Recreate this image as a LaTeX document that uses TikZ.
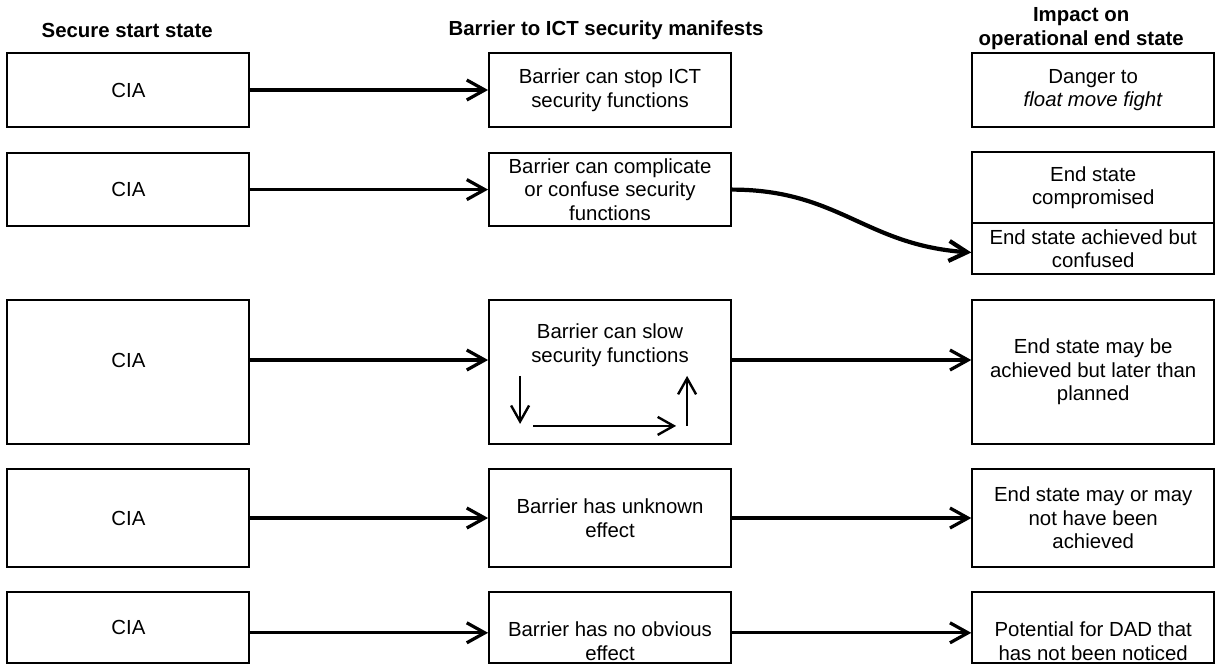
\documentclass[tikz,border=0pt]{standalone}
\usepackage{fontspec}
\setmainfont{Liberation Sans}
\usetikzlibrary{arrows.meta}

\begin{document}
\begin{tikzpicture}[
 head/.style={font=\fontsize{14.5}{16.7}\selectfont\bfseries,align=center,inner sep=0pt},
 box/.style={draw,line width=1.3pt,font=\fontsize{14.5}{16.7}\selectfont,align=center,inner sep=1pt,minimum width=6.05cm},
 link/.style={-{Straight Barb[length=4.5mm,width=5mm]},line width=2.3pt},
 curvelink/.style={link,line width=3pt},
 slowlink/.style={-{Straight Barb[length=4mm,width=4.5mm]},line width=1.7pt}
]
\useasboundingbox (0,0) rectangle (30.55,-16.625);

\node[head] (h1) at (3.18,-0.75) {Secure start state};
\node[head] (h2) at (15.15,-0.75) {Barrier to ICT security manifests};
\node[head] (h3) at (27.03,-0.71) {Impact on\\operational end state};

% row 1
\node[box,minimum height=1.85cm] (cia1) at (3.21,-2.25) {CIA};
\node[box,minimum height=1.85cm] (bar1) at (15.25,-2.25) {Barrier can stop ICT\\security functions};
\node[box,minimum height=1.85cm] (imp1) at (27.33,-2.25) {Danger to\\\textit{float move fight}};
\draw[link] (cia1) -- (bar1);

% row 2
\node[box,minimum height=1.83cm] (cia2) at (3.21,-4.74) {CIA};
\node[box,minimum height=1.83cm] (bar2) at (15.25,-4.74) {Barrier can complicate\\or confuse security\\functions};
\node[box,minimum height=1.775cm] (imp2a) at (27.33,-4.6875) {End state\\compromised};
\node[box,minimum height=1.275cm] (imp2b) at (27.33,-6.2125) {End state achieved but\\confused};
\draw[link] (cia2) -- (bar2);
\draw[curvelink] (bar2.east) to[out=0,in=176,looseness=1.1] ([yshift=-0.1cm]imp2b.west);

% row 3
\node[box,minimum height=3.6cm,text depth=0.6cm] (cia3) at (3.21,-9.3) {CIA};
\node[box,minimum height=3.6cm,text depth=1.45cm] (bar3) at (15.25,-9.3) {Barrier can slow\\security functions};
\node[box,minimum height=3.6cm] (imp3) at (27.33,-9.3) {End state may be\\achieved but later than\\planned};
\draw[link] ([yshift=0.3cm]cia3.east) -- ([yshift=0.3cm]bar3.west);
\draw[link] ([yshift=0.3cm]bar3.east) -- ([yshift=0.3cm]imp3.west);
\coordinate (d1) at ([shift={(0.8,1.725)}]bar3.south west);
\coordinate (d2) at ([shift={(0.8,0.525)}]bar3.south west);
\coordinate (r1) at ([shift={(1.125,0.475)}]bar3.south west);
\coordinate (r2) at ([shift={(4.7,0.475)}]bar3.south west);
\coordinate (u1) at ([shift={(4.975,0.475)}]bar3.south west);
\coordinate (u2) at ([shift={(4.975,1.725)}]bar3.south west);
\draw[slowlink] (d1) -- (d2);
\draw[slowlink] (r1) -- (r2);
\draw[slowlink] (u1) -- (u2);

% row 4
\node[box,minimum height=2.45cm] (cia4) at (3.21,-12.95) {CIA};
\node[box,minimum height=2.45cm] (bar4) at (15.25,-12.95) {Barrier has unknown\\effect};
\node[box,minimum height=2.45cm] (imp4) at (27.33,-12.95) {End state may or may\\not have been\\achieved};
\draw[link] (cia4) -- (bar4);
\draw[link] (bar4) -- (imp4);

% row 5
\node[box,minimum height=1.78cm] (cia5) at (3.21,-15.69) {CIA};
\node[box,minimum height=1.78cm] (bar5) at (15.25,-15.69) {\rule{0pt}{1.05cm}Barrier has no obvious\\effect};
\node[box,minimum height=1.78cm] (imp5) at (27.33,-15.69) {\rule{0pt}{1.05cm}Potential for DAD that\\has not been noticed};
\draw[link] ([yshift=-0.13cm]cia5.east) -- ([yshift=-0.13cm]bar5.west);
\draw[link] ([yshift=-0.13cm]bar5.east) -- ([yshift=-0.13cm]imp5.west);
\end{tikzpicture}
\end{document}
